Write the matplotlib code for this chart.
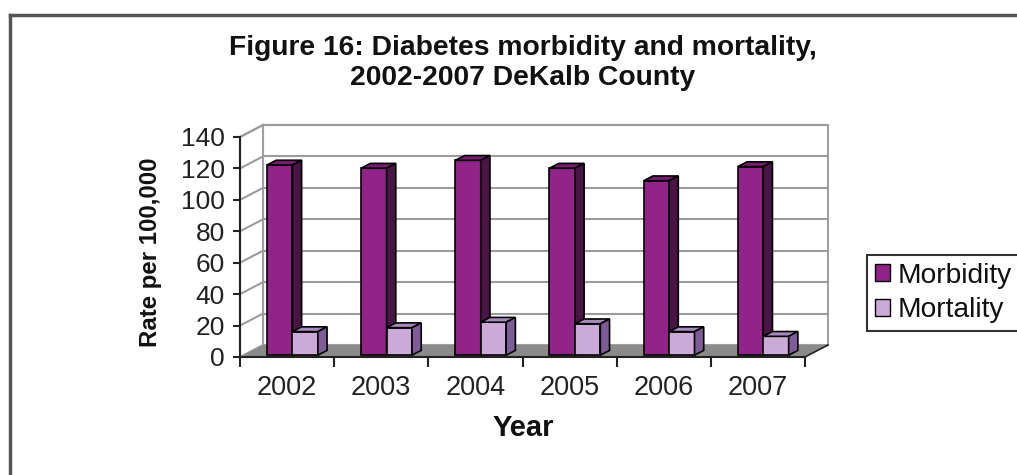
import matplotlib
matplotlib.use("Agg")
import matplotlib.pyplot as plt
from matplotlib.patches import Polygon, Rectangle, Patch
from matplotlib.lines import Line2D

# Data
years = ["2002", "2003", "2004", "2005", "2006", "2007"]
morbidity = [121, 119, 124, 119, 111, 120]
mortality = [15, 17.5, 21, 20, 15, 12]
series_names = ["Morbidity", "Mortality"]
y_ticks = [0, 20, 40, 60, 80, 100, 120, 140]

title_text = "Figure 16: Diabetes morbidity and mortality,\n2002-2007 DeKalb County"
y_label = "Rate per 100,000"
x_label = "Year"

# Colours: front, top, side
face_colors = {
    "Morbidity": ("#922389", "#781c71", "#4a1446"),
    "Mortality": ("#ccaad7", "#a889bd", "#7d5c98"),
}

plt.rcParams["font.family"] = ["Liberation Sans", "DejaVu Sans"]

W, H = 1017, 475
fig = plt.figure(figsize=(W / 100, H / 100), dpi=100)

# Front plane of the plot (pixels)
px_left, px_right = 240, 805
px_bottom, px_top = 357, 137
ax = fig.add_axes([px_left / W, 1 - px_bottom / H,
                   (px_right - px_left) / W, (px_bottom - px_top) / H])
n = len(years)
ymax = y_ticks[-1]
ax.set_xlim(0, n)
ax.set_ylim(0, ymax)
ax.patch.set_visible(False)

# depth offset of the back wall, converted to data units
depth_px = (23, 12)
DX = depth_px[0] * n / (px_right - px_left)
DY = depth_px[1] * ymax / (px_bottom - px_top)

wall_edge = "#a0a0a0"
grid_col = "#9c9c9c"

# back wall
ax.add_patch(Rectangle((DX, DY), n, ymax, facecolor="white", edgecolor=wall_edge,
                       lw=1.5, zorder=0.1, clip_on=False))
# side wall
ax.add_patch(Polygon([(0, 0), (DX, DY), (DX, ymax + DY), (0, ymax)], closed=True,
                     facecolor="white", edgecolor=wall_edge, lw=1.5, zorder=0.1, clip_on=False))
# gridlines on back and side walls
for v in y_ticks[1:]:
    ax.plot([DX, n + DX], [v + DY, v + DY], color=grid_col, lw=1.5, zorder=0.2, clip_on=False)
    ax.plot([0, DX], [v, v + DY], color=grid_col, lw=1.5, zorder=0.2, clip_on=False)
# floor
ax.add_patch(Polygon([(0, 0), (n, 0), (n + DX, DY), (DX, DY)], closed=True,
                     facecolor="#8a8a8a", edgecolor="none", zorder=0.3, clip_on=False))
ax.plot([n, n + DX], [0, DY], color="#222222", lw=1.2, zorder=0.35, clip_on=False)

# 3D-looking bars
bar_w = 0.27
group_off = 0.25
f0, f1 = 0.15, 0.55
for i in range(n):
    for s, (name, vals) in enumerate(zip(series_names, [morbidity, mortality])):
        v = vals[i]
        front, top, side = face_colors[name]
        xl = i + group_off + s * bar_w + f0 * DX
        yb = f0 * DY
        ddx = (f1 - f0) * DX
        ddy = (f1 - f0) * DY
        z = 1 + i * 0.01 + s * 0.005
        ax.add_patch(Rectangle((xl, yb), bar_w, v, facecolor=front, edgecolor="black",
                               lw=1.2, zorder=z, clip_on=False))
        ax.add_patch(Polygon([(xl, yb + v), (xl + bar_w, yb + v),
                              (xl + bar_w + ddx, yb + v + ddy), (xl + ddx, yb + v + ddy)],
                             closed=True, facecolor=top, edgecolor="black", lw=1.2,
                             zorder=z, clip_on=False))
        ax.add_patch(Polygon([(xl + bar_w, yb), (xl + bar_w + ddx, yb + ddy),
                              (xl + bar_w + ddx, yb + v + ddy), (xl + bar_w, yb + v)],
                             closed=True, facecolor=side, edgecolor="black", lw=1.2,
                             zorder=z, clip_on=False))

# axes
for sp in ["top", "right"]:
    ax.spines[sp].set_visible(False)
for sp in ["left", "bottom"]:
    ax.spines[sp].set_color("#222222")
    ax.spines[sp].set_linewidth(1.5)
    ax.spines[sp].set_zorder(5)

ax.set_yticks(y_ticks)
ax.set_yticklabels([str(t) for t in y_ticks])
ax.tick_params(axis="y", direction="out", length=5, width=1.5, color="#222222",
               labelsize=19, pad=6, labelcolor="#222222")
ax.set_xticks(range(n + 1))
ax.set_xticklabels([""] * (n + 1))
ax.set_xticks([i + 0.5 for i in range(n)], minor=True)
ax.set_xticklabels(years, minor=True)
ax.tick_params(axis="x", which="major", direction="out", length=7, width=1.5, color="#222222")
ax.tick_params(axis="x", which="minor", length=0, labelsize=19.5, pad=13, labelcolor="#222222")

# labels and title
fig.text(523 / W, 1 - 63 / H, title_text, ha="center", va="center", fontsize=20.3,
         fontweight="bold", color="#111111", linespacing=1.2)
fig.text(151 / W, 1 - 252 / H, y_label, ha="center", va="center", rotation=90,
         fontsize=17.3, fontweight="bold", color="#111111")
fig.text(523 / W, 1 - 428 / H, x_label, ha="center", va="center",
         fontsize=21, fontweight="bold", color="#111111")

# legend
handles = [Patch(facecolor=face_colors[nm][0], edgecolor="black", lw=1.0) for nm in series_names]
leg = fig.legend(handles, series_names, loc="upper left",
                 bbox_to_anchor=(867 / W, 1 - 255 / H), bbox_transform=fig.transFigure,
                 fontsize=20.3, frameon=True, fancybox=False, edgecolor="black",
                 handlelength=0.55, handleheight=0.55, handletextpad=0.25,
                 borderpad=0.28, labelspacing=0.3, borderaxespad=0)
leg.get_frame().set_linewidth(1.5)
for t in leg.get_texts():
    t.set_color("#111111")

# outer frame
fig.add_artist(Line2D([10 / W, 10 / W], [0, 1 - 15 / H], transform=fig.transFigure,
                      color="#555555", lw=2.5))
fig.add_artist(Line2D([10 / W, 1], [1 - 15 / H, 1 - 15 / H], transform=fig.transFigure,
                      color="#555555", lw=2.5))

fig.savefig("out.png", dpi=100)
